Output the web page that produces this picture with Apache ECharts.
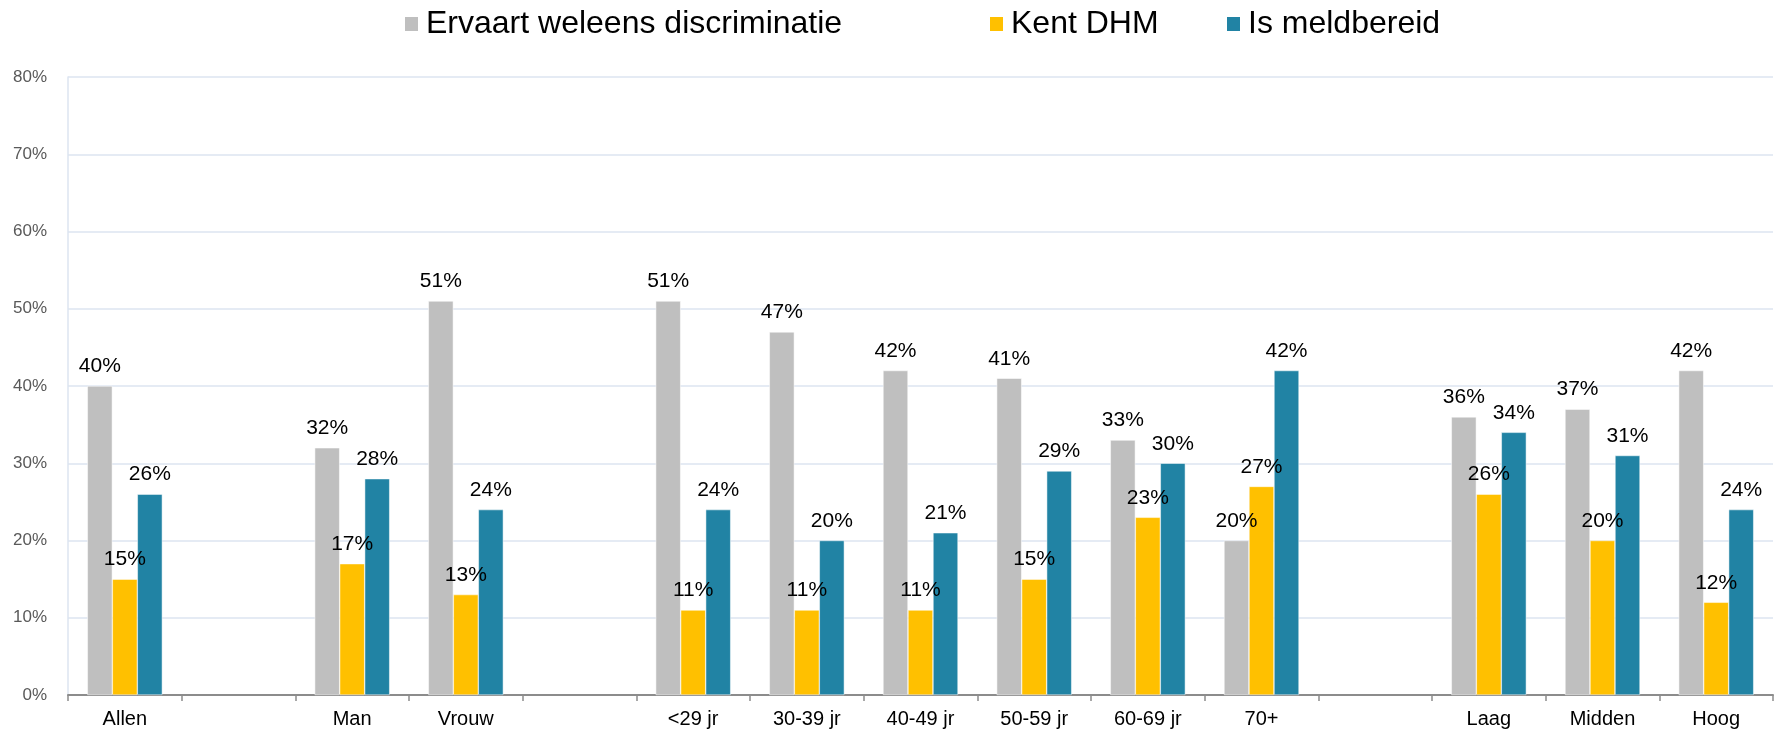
<!DOCTYPE html>
<html>
<head>
<meta charset="utf-8">
<script src="https://cdn.jsdelivr.net/npm/echarts@6/dist/echarts.min.js"></script>
<style>
  html, body { margin: 0; padding: 0; background: #fff; }
  #chart { width: 1781px; height: 735px; }
</style>
</head>
<body>
<div id="chart"></div>
<script>
// categorieen, lege categorieen zijn scheidingen tussen groepen
const categories = ['Allen', '', 'Man', 'Vrouw', '', '<29 jr', '30-39 jr', '40-49 jr', '50-59 jr', '60-69 jr', '70+', '', 'Laag', 'Midden', 'Hoog'];
const ervaart = [40, null, 32, 51, null, 51, 47, 42, 41, 33, 20, null, 36, 37, 42];
const kentDhm = [15, null, 17, 13, null, 11, 11, 11, 15, 23, 27, null, 26, 20, 12];
const meldbereid = [26, null, 28, 24, null, 24, 20, 21, 29, 30, 42, null, 34, 31, 24];
const seriesNames = ['Ervaart weleens discriminatie', 'Kent DHM', 'Is meldbereid'];
const colors = ['#BFBFBF', '#FFC000', '#2183A4'];

const font = 'Liberation Sans, Arial, sans-serif';

function legend(name, left) {
  return {
    data: [name],
    top: 3,
    left: left,
    icon: 'rect',
    itemWidth: 15,
    itemHeight: 16,
    itemGap: 0,
    textStyle: { fontSize: 32, color: '#000', fontFamily: font, padding: [0, 0, 0, 2] }
  };
}

function barSeries(name, data, color) {
  return {
    name: name,
    type: 'bar',
    data: data,
    barGap: '0%',
    barCategoryGap: '34%',
    itemStyle: { color: color, borderColor: '#fff', borderWidth: 0.5 },
    label: {
      show: true,
      position: 'top',
      distance: 9,
      formatter: '{c}%',
      fontSize: 21,
      color: '#000',
      fontFamily: font
    }
  };
}

const chart = echarts.init(document.getElementById('chart'));
chart.setOption({
  animation: false,
  legend: [
    legend(seriesNames[0], 398),
    legend(seriesNames[1], 983),
    legend(seriesNames[2], 1220)
  ],
  grid: { left: 68, right: 8, top: 77, bottom: 40 },
  xAxis: {
    type: 'category',
    data: categories,
    axisLine: { lineStyle: { color: '#8C8C8C', width: 2 } },
    axisTick: { show: true, length: 6, lineStyle: { color: '#8C8C8C', width: 1.5 } },
    axisLabel: { fontSize: 20, color: '#000', fontFamily: font, margin: 14, interval: 0 }
  },
  yAxis: {
    type: 'value',
    min: 0,
    max: 80,
    interval: 10,
    axisLine: { show: true, lineStyle: { color: '#DCE4F0', width: 1.5 } },
    axisTick: { show: false },
    splitLine: { lineStyle: { color: '#DCE4F0', width: 1.5 } },
    axisLabel: { formatter: '{value}%', fontSize: 17, color: '#595959', fontFamily: font, margin: 21 }
  },
  series: [
    barSeries(seriesNames[0], ervaart, colors[0]),
    barSeries(seriesNames[1], kentDhm, colors[1]),
    barSeries(seriesNames[2], meldbereid, colors[2])
  ]
});
</script>
</body>
</html>
